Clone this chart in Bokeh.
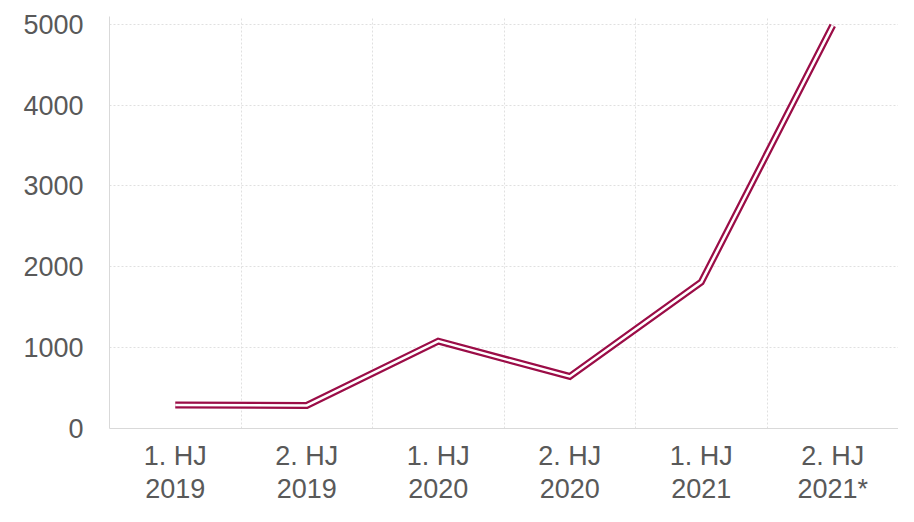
from bokeh.plotting import figure
from bokeh.models import Range1d, FixedTicker, LinearAxis
from bokeh.embed import file_html
from bokeh.resources import INLINE

periods = ["1. HJ", "2. HJ", "1. HJ", "2. HJ", "1. HJ", "2. HJ"]
years = ["2019", "2019", "2020", "2020", "2021", "2021*"]
values = [292, 285, 1080, 643, 1810, 4985]
y_ticks = [0, 1000, 2000, 3000, 4000, 5000]

xs = [i + 0.5 for i in range(len(periods))]

p = figure(width=898, height=506, output_backend="svg", toolbar_location=None,
           x_range=Range1d(0, len(periods)), y_range=Range1d(0, 5095),
           min_border_left=109, min_border_right=0, min_border_top=16, min_border_bottom=0)
p.outline_line_color = None
p.background_fill_color = "white"

line_color = "#9B0D47"
p.line(xs, values, line_width=7, line_color=line_color, line_join="miter")
p.line(xs, values, line_width=2.5, line_color="white", line_join="miter")

font = "Liberation Sans"
label_color = "#595959"
font_size = "27px"

year_axis = LinearAxis()
p.add_layout(year_axis, "below")

p.xaxis[0].ticker = FixedTicker(ticks=xs)
p.xaxis[0].major_label_overrides = {x: c for x, c in zip(xs, periods)}
year_axis.ticker = FixedTicker(ticks=xs)
year_axis.major_label_overrides = {x: c for x, c in zip(xs, years)}
p.yaxis.ticker = FixedTicker(ticks=y_ticks)

for ax in (p.xaxis[0], year_axis, p.yaxis[0]):
    ax.major_label_text_font = font
    ax.major_label_text_font_size = font_size
    ax.major_label_text_color = label_color
    ax.major_tick_line_color = None
    ax.minor_tick_line_color = None
    ax.major_tick_out = 0
    ax.major_tick_in = 0
    ax.minor_tick_out = 0
    ax.axis_line_color = "#d9d9d9"
    ax.axis_line_width = 1
year_axis.axis_line_color = None
p.xaxis[0].major_label_standoff = 12
year_axis.major_label_standoff = 0
p.yaxis.major_label_standoff = 26

p.xgrid.ticker = FixedTicker(ticks=[1, 2, 3, 4, 5, 6])
p.ygrid.ticker = FixedTicker(ticks=y_ticks[1:])
for g in (p.xgrid, p.ygrid):
    g.grid_line_color = "#e0e0e0"
    g.grid_line_dash = "2 2"
    g.grid_line_width = 1

open("out.html", "w").write(file_html(p, INLINE))
